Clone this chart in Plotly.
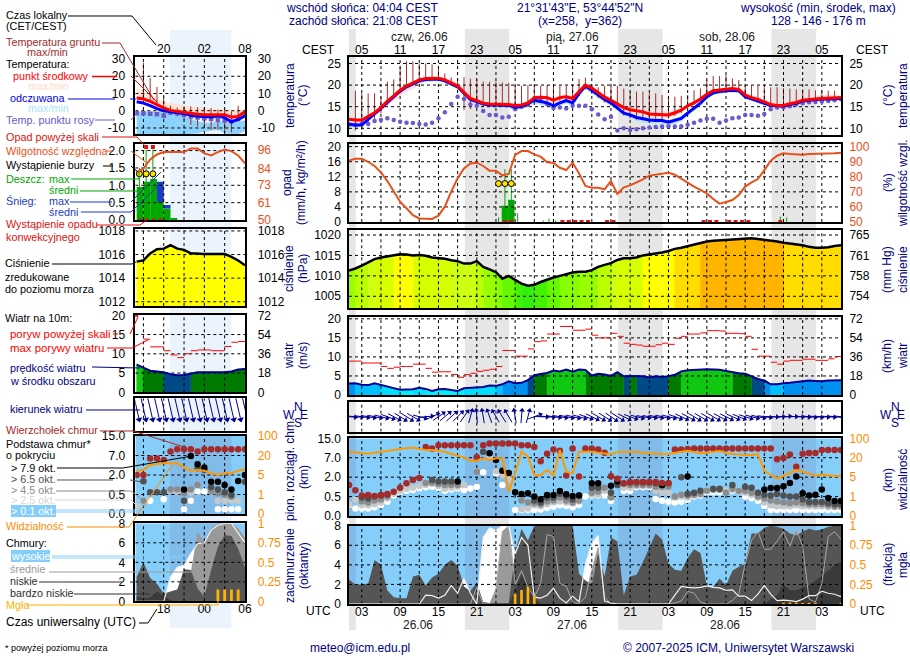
# Meteogram ICM - rebuilt in plotly

import math

import plotly.graph_objects as go

# ===== DATA: main panels, hours since 00 UTC 26.06 =====
hours = list(range(1, 79))
night_main = [(0.9, 2.07), (19.13, 26.07), (43.13, 50.07), (67.13, 74.07)]
top_vals = [3, 9, 15, 21, 27, 33, 39, 45, 51, 57, 63, 69, 75]
cest_labels = ["05", "11", "17", "23", "05", "11", "17", "23", "05", "11", "17", "23", "05"]
utc_labels = ["03", "09", "15", "21", "03", "09", "15", "21", "03", "09", "15", "21", "03"]

temp_mid = [12.1, 11.9, 11.9, 12.7, 13.6, 14.8, 16.3, 17.5, 18.8, 19.8, 20.5, 21.2, 21.5, 21.6, 21.6, 21.2, 20.5, 19.8, 18.3, 16.9, 16.4, 15.8, 15.6, 15.6, 15.6, 15.5, 15.3, 15.4, 15.9, 17.1, 17.2, 17.1, 16.5, 17.1, 17.3, 16.9, 18.5, 20, 19.3, 18.2, 17.2, 16.5, 15.6, 14.8, 14.3, 14, 13.8, 13.3, 13.2, 13.2, 13.1, 13.6, 14.2, 15.2, 15.9, 16.8, 17.9, 18.7, 18.9, 19.1, 19.2, 19, 17.7, 17.1, 16.7, 16.1, 15.5, 15.3, 15.3, 15.7, 16, 16.5, 16.7, 16.8, 16.9, 17, 17, 17.1]
temp_max = [12.5, 12.3, 12.3, 13.0, 13.9, 15.0, 16.4, 17.6, 18.9, 19.9, 20.6, 21.3, 21.6, 21.8, 21.9, 21.7, 21.2, 20.6, 19.3, 17.9, 17.2, 16.3, 15.9, 15.9, 15.9, 15.8, 15.6, 15.7, 16.3, 17.5, 17.7, 17.5, 17.0, 17.6, 17.9, 17.5, 19.0, 20.3, 19.8, 18.7, 17.8, 17.0, 16.1, 15.3, 14.9, 14.6, 14.4, 14.0, 14.0, 14.0, 13.7, 14.2, 14.7, 15.6, 16.2, 17.1, 18.2, 19.0, 19.2, 19.4, 19.5, 19.4, 18.3, 17.7, 17.3, 16.7, 16.0, 15.8, 15.9, 16.4, 16.8, 17.3, 17.5, 17.6, 17.7, 17.7, 17.7, 17.7]
temp_min = [11.5, 11.3, 11.3, 12.2, 13.0, 14.0, 15.2, 16.3, 17.5, 18.4, 19.2, 20.0, 20.7, 21.2, 21.3, 20.9, 20.2, 19.5, 18.0, 16.6, 16.1, 15.5, 15.3, 15.3, 15.3, 15.1, 14.9, 15.0, 15.5, 16.4, 16.3, 16.1, 15.6, 16.2, 16.6, 16.2, 18.0, 19.7, 18.9, 17.7, 16.7, 15.9, 15.0, 14.3, 13.8, 13.4, 13.1, 12.6, 12.4, 12.4, 12.2, 12.9, 13.6, 14.8, 15.5, 16.4, 17.6, 18.4, 18.6, 18.8, 18.9, 18.7, 17.4, 16.8, 16.4, 15.8, 15.3, 15.0, 15.0, 15.4, 15.8, 16.3, 16.5, 16.6, 16.7, 16.8, 16.8, 16.9]
feels = [11, 10.7, 10.8, 12, 13.2, 14.6, 16, 17.3, 18.6, 19.6, 20.3, 21, 21.3, 21.4, 21.4, 21, 20.3, 19.6, 18.1, 16.7, 16.2, 15.6, 15.4, 15.4, 15.4, 15.3, 14.8, 15.1, 15.7, 16.5, 16.2, 15.9, 15.2, 15.9, 16.4, 15.9, 18.1, 19.8, 18.8, 17.7, 16.7, 15.9, 14.8, 13.5, 13.1, 12.5, 12.2, 11.9, 11.8, 11.8, 11.4, 11.8, 12.3, 13.5, 14.6, 15.8, 17.3, 18.2, 18.5, 18.7, 18.8, 18.7, 17.3, 16.8, 16.3, 15.8, 15.3, 15.2, 15.1, 15.5, 15.8, 16.3, 16.5, 16.7, 16.8, 16.8, 16.8, 16.9]
feels_max = [11.4, 11.1, 11.2, 12.4, 13.5, 14.8, 16.2, 17.5, 18.8, 19.8, 20.5, 21.2, 21.5, 21.6, 21.6, 21.2, 20.5, 19.8, 18.4, 17, 16.4, 15.8, 15.6, 15.6, 15.6, 15.5, 15.1, 15.4, 16, 16.9, 16.7, 16.4, 15.8, 16.5, 16.9, 16.4, 18.5, 20, 19.2, 18.1, 17.1, 16.3, 15.3, 14.1, 13.6, 13.1, 12.8, 12.5, 12.4, 12.4, 12, 12.4, 12.9, 14, 15.1, 16.2, 17.6, 18.5, 18.8, 19, 19.1, 18.9, 17.6, 17, 16.6, 16, 15.5, 15.4, 15.3, 15.7, 16, 16.5, 16.7, 16.9, 17, 17, 17, 17.1]
feels_min = [10.4, 10.2, 10.3, 11.5, 12.7, 14.1, 15.5, 16.8, 18.1, 19.1, 19.8, 20.5, 20.8, 20.9, 20.9, 20.5, 19.8, 19.1, 17.6, 16.2, 15.7, 15.1, 14.9, 14.9, 14.9, 14.7, 14.2, 14.4, 15, 15.7, 15.4, 15.1, 14.5, 15.2, 15.7, 15.2, 17.2, 19, 18.1, 17, 16, 15.2, 14.1, 12.8, 12.3, 11.7, 11.3, 11, 10.9, 10.9, 10.5, 11, 11.6, 12.9, 14, 15.2, 16.7, 17.7, 18, 18.2, 18.3, 18.1, 16.8, 16.3, 15.8, 15.3, 14.9, 14.8, 14.7, 15.1, 15.4, 15.9, 16.1, 16.3, 16.4, 16.5, 16.5, 16.6]
dew = [10.8, 10.9, 11, 11, 11.7, 11.9, 12.3, 11.9, 11.5, 11.3, 11.2, 11, 10.9, 11.3, 12.3, 13.7, 15.6, 17.3, 16.8, 15.5, 15.2, 14, 13.1, 13.1, 12.5, 12.7, 14.4, 15, 15.4, 16.7, 16.3, 15.6, 14.7, 14.8, 14.6, 15.2, 15.2, 15.2, 14.4, 13.2, 12.1, 12.7, 9.5, 10, 9.6, 9.8, 10, 10.2, 10.3, 10.4, 10.5, 10.4, 10.5, 10.8, 11.3, 11.8, 12.2, 12.2, 11.3, 11.8, 12.3, 12.5, 13.1, 13.1, 12.9, 13.3, 14.4, 14.8, 14.8, 15.1, 15.5, 15.8, 16, 16.1, 16.2, 16.3, 16.5, 16.7]
soil_max = [12.5, 18.7, 18.1, 18.1, 18.1, 17.3, 20.8, 21.3, 24.2, 25.5, 25.5, 25, 25, 24.8, 23.8, 22.7, 21.8, 21.5, 21.8, 21.5, 21.3, 20.8, 20.8, 20.8, 20.6, 20.5, 20, 19.8, 20, 19.8, 19.8, 20, 19.6, 19.8, 19.8, 19.8, 21.4, 21.7, 20, 19.5, 19.8, 19.6, 19.8, 19.2, 18.5, 18.5, 18.5, 18.1, 18.1, 17.7, 17.5, 17.3, 17.5, 17.7, 18.8, 19.2, 21.2, 22.1, 22.1, 22.3, 21.5, 21.2, 20, 19.9, 19.8, 19.5, 19.5, 19.5, 19.3, 19.2, 19, 19, 19, 18.8, 18.8, 18.7, 18.7, 17.1]
soil_min = [12.1, 9.5, 9.6, 10.5, 12, 13.5, 15.5, 17, 18.5, 19.5, 20.5, 21, 21.3, 21.5, 21.5, 21, 20, 19.5, 14.2, 14.4, 14.8, 15.2, 15.2, 15.2, 15.2, 15, 15, 15, 15.5, 16.5, 16.5, 16.3, 16, 16.4, 16.5, 16, 17.5, 19, 18, 17, 16, 15.5, 14.5, 13, 12.3, 12, 12, 12, 12, 12, 12.2, 12.8, 13.5, 14.8, 15.5, 16.5, 17.5, 18.5, 18.7, 18.9, 19, 18.8, 17.5, 16.8, 16.4, 15.8, 15.3, 15, 15, 15.5, 15.8, 16.3, 16.5, 16.6, 16.7, 16.8, 16.8, 17.1]

humidity = [90.9, 92, 92, 90, 87.2, 83, 77.2, 70.1, 63.5, 59.1, 54.6, 52.4, 52, 52, 54.2, 60.2, 70.1, 79, 85.6, 88.9, 89.4, 87.2, 84.1, 84.1, 81, 81.9, 94.5, 97.1, 97.1, 94.9, 93.4, 89.6, 89.2, 86, 84.5, 89.4, 82.3, 73.9, 72.8, 72.8, 71.7, 77.2, 68.6, 73, 74.3, 76.1, 78.3, 80.8, 81.6, 82.1, 82.7, 81.4, 79, 76.1, 73.5, 71.2, 69, 65.3, 62.2, 63.3, 64.6, 67.9, 73.5, 76.3, 78.5, 84.5, 90.7, 94, 95.6, 95.1, 94.7, 94.7, 95.1, 95.1, 95.1, 95.4, 95.6, 96]
rain_mean_x = [25.4, 26.4]
rain_mean = [4.3, 5.9]
rain_max_x = [24.4, 25.4, 26.4, 27.4, 31.4, 32.3, 33.3, 68.5, 69.5]
rain_max = [1.2, 14, 14, 2.3, 0.4, 0.9, 0.4, 1.4, 1.2]
storm_x = [24.4, 25.4, 26.4]
storm_y = [10.2, 10.2, 10.2]
convective_x = [25.4, 26.4, 34.4, 35.4, 36.4, 37.4, 38.4, 41.4, 42.4, 56.5, 57.5, 58.5, 60.5, 61.5, 62.5, 63.5, 68.5]

pressure = [1011.3, 1011.8, 1012.5, 1013.4, 1014.1, 1014.5, 1014.8, 1015.1, 1015.3, 1015.2, 1015, 1015.1, 1014.9, 1014.5, 1014.4, 1014.2, 1013.8, 1013.6, 1013, 1013, 1013.6, 1012.2, 1011.6, 1010.9, 1009.3, 1010, 1009, 1008.1, 1007.6, 1007.8, 1008.5, 1009.1, 1009.6, 1010, 1010.4, 1010.8, 1011, 1011, 1011.4, 1012.2, 1012.7, 1013.1, 1013.9, 1014.3, 1014.3, 1014.5, 1015, 1015.2, 1015.4, 1015.7, 1016.1, 1016.6, 1016.9, 1017.3, 1017.7, 1018.1, 1018.4, 1018.6, 1018.7, 1018.8, 1018.9, 1019.1, 1019.2, 1019.2, 1019, 1018.8, 1018.7, 1018.4, 1018.1, 1017.9, 1017.8, 1017.5, 1017.1, 1016.9, 1016.9, 1017, 1017.3, 1017.5]

wind = [3, 3.1, 2.7, 2.6, 3.1, 2.6, 2.1, 1.8, 1.4, 1.4, 1.5, 1.9, 1.6, 1.05, 1.5, 1.6, 1.3, 1.05, 1.75, 1.9, 1.9, 2.1, 2.5, 2.4, 2.8, 3.6, 3.1, 3.2, 3.9, 5.2, 5.5, 5.8, 6.4, 6.2, 6.7, 6.1, 6.7, 6.6, 5.1, 5.6, 5.4, 5, 6, 4.9, 5, 5, 4.9, 4.6, 4.9, 4.7, 4.9, 5.3, 6.2, 6.5, 6.6, 6.7, 6.75, 6.7, 6.6, 6.3, 6, 5.7, 5.6, 4.9, 4.2, 3.8, 2.8, 2.8, 3.1, 3.2, 3.4, 3.7, 3.8, 3.7, 3.6, 3.8, 3.9, 3.85]
gust = [8.9, 8.9, 8.4, 8.4, 8.4, 7.5, 7, 7.3, 7.5, 7.5, 8.1, 8.1, 7, 6, 6.1, 6.1, 5.4, 4.65, 5.35, 5.7, 6.2, 6.5, 6.75, 7.5, 11.7, 11.7, 10.2, 10.2, 12.1, 14, 14.2, 16, 16, 18, 18, 17, 17, 17.3, 15.7, 15, 15, 16.2, 15.4, 13.6, 13.3, 13.1, 12.8, 12.8, 13.2, 13.6, 13.3, 14.9, 15.4, 16, 16, 16.3, 16.9, 16.9, 16.8, 16.2, 16.2, 16.1, 15.4, 12, 10.2, 10.2, 8.6, 8.1, 8.9, 9.1, 9.1, 9.4, 9.4, 9.1, 9.1, 9.5, 10.1]
wind_dir = [275, 275, 278, 280, 282, 285, 290, 298, 302, 302, 300, 285, 265, 245, 235, 230, 228, 225, 215, 195, 175, 170, 160, 150, 148, 150, 170, 185, 195, 250, 272, 275, 278, 280, 282, 284, 286, 290, 296, 300, 302, 304, 302, 296, 290, 285, 280, 280, 282, 283, 285, 290, 295, 298, 300, 300, 300, 300, 298, 296, 294, 292, 288, 285, 282, 278, 272, 268, 266, 268, 272, 274, 276, 276, 274, 275, 276, 276]

base_top = [1.60, 1.32, 1.06, 1.08, 1.03, 1.08, 1.13, 1.25, 1.46, 1.68, 1.85, 1.96, 3.55, 3.48, 3.64, 3.64, 3.64, 3.64, 3.64, 3.64, 3.02, 3.64, 3.73, 3.73, 3.73, 3.73, 3.73, 3.64, 3.64, 3.55, 2.82, 3.21, 3.42, 3.36, 2.09, 3.48, 2.03, 3.48, 3.48, 3.42, 3.26, 2.04, 1.92, 1.68, 1.75, 1.75, 1.75, 1.75, 1.75, 1.70, 1.68, 3.42, 3.42, 3.45, 3.48, 3.48, 3.48, 3.48, 3.48, 3.48, 3.48, 3.48, 3.48, 3.48, 3.48, 3.48, 3.48, 2.92, 2.99, 3.16, 2.54, 3.21, 3.24, 3.24, 3.40, 3.40, 3.40, 3.40]
base79_h = [18, 23, 24, 25, 26, 27, 28, 29, 30, 31, 32, 33, 34, 35, 36, 37, 39, 40, 42, 43, 50, 54, 66, 67, 68, 69, 70, 71, 72, 73, 74, 75, 76, 77, 78]
base79 = [1.77, 3.23, 2.88, 2.33, 2.21, 1.22, 1.13, 1.17, 1.01, 0.86, 1.08, 1.08, 1.29, 1.12, 1.03, 1.05, 1.68, 1.68, 1.56, 1.77, 1.60, 2.03, 1.37, 1.44, 1.44, 1.53, 1.70, 2.03, 1.17, 1.06, 1.10, 1.37, 0.93, 0.77, 0.77]
base65_h = [3, 4, 5, 6, 7, 14, 15, 16, 17, 22, 30, 31, 32, 33, 34, 35, 36, 37, 39, 40, 42, 43, 45, 46, 47, 48, 49, 50, 51, 53, 54, 55, 56, 58, 59, 61, 63, 64, 65, 66, 67, 68, 69, 70, 71, 72, 73, 74, 75, 76, 77, 78]
base65 = [0.95, 0.9, 1.0, 1.05, 1.1, 1.85, 1.77, 1.77, 1.77, 3.31, 0.8, 0.7, 0.95, 0.95, 1.15, 1.0, 0.85, 1.05, 1.45, 1.45, 1.2, 1.6, 1.72, 1.72, 1.72, 1.72, 1.68, 1.6, 1.68, 1.99, 1.15, 1.2, 1.3, 1.4, 1.4, 1.6, 1.5, 1.45, 1.2, 1.1, 1.05, 1.15, 1.05, 1.0, 1.0, 0.85, 0.72, 0.72, 0.72, 0.65, 0.6, 0.6]
base45_h = [3, 4, 5, 6, 7, 13, 14, 15, 16, 17, 18, 21, 28, 29, 30, 31, 32, 33, 34, 35, 36, 37, 39, 40, 41, 42, 44, 45, 46, 47, 48, 49, 50, 51, 52, 53, 54, 55, 56, 57, 58, 59, 60, 61, 62, 63, 64, 65, 66, 67, 68, 69, 70, 71, 72, 73, 74, 75, 76, 77, 78]
base45 = [0.75, 0.7, 0.8, 0.85, 1.0, 1.7, 1.72, 1.65, 1.6, 1.6, 1.6, 2.28, 0.8, 0.7, 0.65, 0.6, 0.75, 0.8, 0.95, 0.8, 0.7, 0.8, 1.2, 1.25, 1.45, 0.95, 1.65, 1.6, 1.6, 1.6, 1.6, 1.5, 1.5, 1.5, 1.0, 1.1, 1.05, 1.1, 1.15, 1.3, 1.35, 1.35, 1.2, 1.4, 1.3, 1.3, 1.2, 1.0, 0.9, 0.8, 0.75, 0.7, 0.65, 0.7, 0.65, 0.6, 0.6, 0.6, 0.55, 0.5, 0.5]
base25 = [0.6, 0.84, 0.55, 0.55, 0.6, 0.7, 0.9, 1.15, 1.3, 1.4, 1.45, 1.55, 1.6, 1.65, 1.55, 1.4, 1.45, 1.5, 1.6, None, 2.3, None, 3.0, 2.3, 2.1, 1.9, None, 0.35, 0.38, 0.55, 0.5, 0.6, 0.7, 0.75, 0.7, 0.65, 0.75, None, 1.1, 1.1, 1.3, 1.0, None, 1.45, 1.45, 1.55, 1.55, 1.55, 1.3, 1.2, 1.2, 0.95, 1.0, 0.95, 1.05, 1.1, 1.3, 1.4, 1.4, 1.3, 1.35, 1.25, 1.2, 1.1, 0.95, 0.7, 0.55, 0.5, 0.5, 0.5, 0.55, 0.5, 0.5, 0.5, 0.5, 0.45, 0.45, 0.45]
base01 = [0.57, 0.39, 0.39, 0.39, 0.45, 0.57, 0.74, 1.05, 1.25, 1.30, 1.34, 1.42, 1.48, 1.51, 1.44, 1.30, 1.37, 1.41, 1.34, 1.42, 1.51, 2.25, None, 2.2, 1.60, None, 0.31, 0.31, 0.31, 0.31, 0.34, 0.41, 0.48, 0.55, 0.51, 0.45, 0.57, 1.0, 1.05, 1.05, 1.05, 0.77, None, 1.29, 1.29, 1.48, 1.48, 1.48, 0.88, 0.79, 0.74, 0.69, 0.74, 0.84, 1.0, 1.05, 1.22, 1.22, 1.22, 1.22, 1.30, 1.30, 1.0, 0.91, 0.79, 0.51, 0.31, 0.31, 0.31, 0.31, 0.31, 0.31, 0.31, 0.31, 0.31, 0.31, 0.31, 0.31]
visibility = [3.31, 3.27, 3.25, 3.2, 3.26, 3.3, 3.33, 3.4, 3.45, 3.5, 3.52, 3.45, 3.4, 3.4, 3.36, 3.31, 3.19, 3.09, 3.02, 2.85, 2.85, 2.97, 2.88, 2.97, 2.97, 1.25, 2.2, 3.31, 3.06, 2.11, 2.11, 2.37, 2.08, 3.4, 2.28, 2.2, 3.31, 3.31, 3.31, 3.26, 3.23, 3.18, 3.3, 3.31, 3.3, 3.3, 3.26, 3.23, 3.21, 3.19, 3.19, 3.26, 3.31, 3.36, 3.31, 3.23, 3.26, 3.3, 3.35, 3.23, 3.19, 3.18, 3.14, 3.14, 3.19, 2.33, 2.11, 1.94, 2.06, 2.23, 2.37, 2.28, 2.16, 2.08, 2.13, 2.09, 2.06, 2.06]

cloud_high = [0, 0, 0, 0, 0, 0, 0, 0, 0, 0, 0, 0, 0.9, 0.85, 0.6, 0.9, 1.9, 1.1, 2.6, 1.1, 0, 6.8, 7.8, 7.5, 8, 8, 5.1, 6.8, 6, 0.7, 0.6, 0.9, 1.6, 0.6, 0.1, 0.8, 0.2, 4.1, 6.2, 7, 0.3, 0.1, 0, 0, 0, 0, 0, 0, 0, 0, 0, 0.9, 1.8, 1.7, 1.65, 1.7, 1.85, 1.7, 1.65, 1.4, 1.45, 0.8, 0.8, 0.35, 1, 1.9, 1, 0.35, 0.4, 0.35, 0.25, 0.5, 0.85, 0.85, 1.3, 1.1, 1, 0.75]
cloud_mid = [0, 0, 0, 0, 0, 0, 0, 0, 0, 0, 0, 0, 0, 0, 0, 0, 0, 0, 0, 0, 1.7, 0, 0, 1.5, 7.4, 8, 2, 3.4, 1.7, 0.7, 2.1, 7.1, 6.9, 2.1, 1.8, 0.2, 0, 0.7, 3.5, 5.8, 0.7, 0, 0, 0, 0, 0, 0, 0, 0, 0, 0, 0.1, 0.3, 1.3, 1.1, 0.2, 0, 0, 0, 0, 0.35, 1, 4.1, 6.5, 7.4, 5.6, 5.6, 6.4, 7.4, 5.9, 7.6, 5.9, 0.5, 0.2, 2.1, 6.9, 7.4, 6.6]
cloud_low = [2.5, 2, 2, 2.1, 4.5, 4, 1.4, 0.7, 0.6, 0.6, 2.8, 3, 1.9, 2.7, 3.1, 4, 4.5, 3.9, 1.8, 1.3, 2.2, 0.2, 0.1, 0.1, 0.1, 0.1, 5.2, 7.7, 6.5, 8, 8, 8, 8, 8, 8, 8, 3.1, 2.4, 2, 5.2, 2.8, 6.8, 6.4, 0.9, 2.8, 3, 4.3, 5.7, 7.2, 6.6, 4.1, 3.5, 3.4, 4.7, 5.6, 5.2, 1.9, 1.7, 2.6, 1.9, 3.4, 3.8, 4.1, 7.2, 7.2, 7.8, 8, 7.9, 7.7, 7.2, 7, 7.4, 7.7, 7.5, 7.6, 7.9, 8, 8]
cloud_vlow = [0.1, 0.1, 0, 0, 0, 0, 0, 0, 0, 0, 0, 0, 0, 0, 0, 0, 0, 0, 0, 0, 0, 0, 0, 0, 0, 0, 1.4, 3, 2.1, 0.5, 0, 0, 0, 0, 0, 0, 0, 0, 0, 0, 0, 0, 0, 0, 0, 0, 0, 0, 0, 0, 0, 0, 0, 0, 0, 0, 0, 0, 0, 0, 0, 0, 0, 0, 0, 0, 0.5, 0.9, 2, 1.4, 1.4, 1.7, 1.9, 2.4, 2.9, 3.4, 4, 4.3]
fog_x = [27, 28, 29, 30, 69, 70, 71, 72, 73, 74, 78]
fog = [0.13, 0.18, 0.22, 0.1, 0.02, 0.02, 0.015, 0.015, 0.015, 0.015, 0.015]

# ===== DATA: small legend panels (17 hours, 14 -> 30) =====
left_hours = list(range(14, 31))
left_top_vals = [18, 24, 30]
left_top_labels = ["20", "02", "08"]
left_utc_labels = ["18", "00", "06"]
left_night = (18.9, 28.0)

left_temp = [7.4, 6.8, 5.4, 3.5, 1.6, 0.2, -0.4, -1, -1.7, -2.1, -2.3, -2.3, -2.3, -2.3, -3.7, -3.3, -0.4]
left_temp_max = [13.2, 11, 9, 7, 5, 4.5, 3.5, 3, 2.5, 2, 1.5, 1.5, 1, 1, 0.5, 0, 0.5]
left_feels = [5.2, 4.4, 3, 1.2, -0.1, -0.6, -1, -1.7, -2.6, -3.2, -3.3, -3.6, -3, -4, -6.5, -5, -3]
left_feels_max = [-0.5, -0.5, -0.5, -0.5, -0.5, -1, -2, -3, -5, -6, -7, -7, -6, -6.5, -7, -6.5, -5.5]
left_feels_min = [-13.5, -13.5, -13.5, -13.5, -13.5, -13.5, -13.5, -13.5, -13.5, -13, -12, -11.5, -11, -13, -13.5, -13.5, -12]
left_dew = [-1.4, -1.4, -1.7, -2.1, -2.9, -1, -1.4, -2.3, -3.3, -3.9, -4.3, -4.7, -5.2, -5.6, -6.2, -4.9, -2.3]
left_soil_x = [15, 16, 17, 18, 19, 20, 21, 22, 23, 24, 25, 26, 27, 28, 29]
left_soil_max = [27.8, 19, 13.8, 8.3, 2.9, 1.9, 2.5, 2.5, 2.1, 2.1, 1.55, 0.6, 0.6, -0.4, 2.9]
left_soil_min = [6.4, 4.5, 2.5, 0.6, -2.3, -3.3, -5.2, -8.2, -9.1, -10.1, -11.1, -11.1, -13, -12.6, -5.2]

left_humidity = [81.4, 83.8, 89.8, 93.1, 94.7, 94.7, 94.7, 94.7, 97.1, 97.1, 93.8, 92.5, 94.7, 96.4, 95.3, 92.5, 87.2]
left_rain_x = [14.5, 15.5, 16.5, 17.5, 18.5, 19.5]
left_rain = [0.95, 1.10, 1.18, 0.52, 0.33, 0.05]
left_snow_x = [17.5, 18.5]
left_snow = [0.58, 0.1]
left_snow_base = [0.52, 0.33]
left_rain_max_x = [14.4, 15.4, 16.4]
left_rain_max = [1.5, 2.03, 2.03]
left_over_y = [2.1, 2.1]
left_over_x = [15.4, 16.4]
left_storm_y = [1.33, 1.33, 1.33]
left_convective_x = [14.5, 15.5, 16.5, 17.5]

left_pressure = [1015.4, 1015.5, 1016.1, 1016.45, 1016.5, 1016.8, 1016.5, 1016.4, 1016.1, 1016.05, 1016.05, 1016.05, 1016.05, 1016.05, 1015.8, 1015.5, 1015.1]
left_wind = [7.2, 6.3, 5.6, 5.4, 5.2, 4.7, 4.4, 4.5, 4.8, 5.2, 5.2, 5.2, 5.1, 5.2, 5.4, 5.9, 6.05]
left_gust = [20, 13.8, 11.8, 11.8, 10.8, 9.7, 9, 10, 10.8, 11, 11, 10.8, 10.8, 11.9, 13, 13.2]
left_wind_dir = [346, 346, 346, 346, 346, 346, 346, 346, 346, 346, 346, 346, 346, 346, 346, 346, 346]

left_base_top = [2, 2, 2.85, 2.85, 2.77, 3.2, 3.32, 3.32, 3.32, 3.21, 3.32, 3.32, 3.32, 3.32, 3.32, 3.32, 3.32]
left_79_h = [21, 22, 23, 24, 25, 26, 27, 28, 29, 30]
left_79 = [1.26, 2.97, 2.55, 2.38, 1.66, 1.66, 1.49, 1.26, 1.69, 2.0]
left_65_h = [15, 16, 17, 18, 21, 23, 24, 25, 26, 27, 28, 30]
left_65 = [1.68, 1.11, 1.11, 1.11, 0.68, 2.34, 2.26, 1.37, 1.26, 1.11, 0.97, 1.66]
left_45_h = [15, 19, 20, 21, 22, 23, 25, 26, 27, 28]
left_45 = [0.68, 1.26, 1.26, 1.06, 1.26, 1.49, 1.15, 1.06, 0.97, 0.89]
left_25_h = [14, 19, 20, 22, 26, 27, 28, 29]
left_25 = [0.41, 1.2, 1.15, 1.1, 0.68, 0.68, 0.68, 0.68]
left_01_h = [15, 16, 18, 21, 22, 23, 24, 25, 26, 27, 28, 29]
left_01 = [0.68, 0.68, 0.75, 0.24, 0.68, 1.15, 1.15, 1.15, 0.24, 0.24, 0.24, 0.24]
left_visibility = [2.22, 2.26, 2.51, 2.56, 2.6, 2.6, 2.6, 2.39, 2.22, 2.26, 2.22, 2.09, 2.02, 2.09, 2.09, 2.22, 2.29]

left_high = [0, 0, 0, 0, 0, 2.5, 3.5, 3.7, 4.9, 5.9, 6, 7.3, 7.8, 8, 8, 7, 6]
left_mid = [0, 0, 0, 0, 0, 0, 0.5, 2, 3, 7.1, 6.1, 7.5, 8, 8, 8, 7.5, 6.5]
left_low = [2.5, 4, 2.4, 1.8, 0.8, 1, 1.2, 3.3, 3.2, 1.3, 0.5, 3.2, 5.6, 6.8, 6.7, 5.4, 3.5]
left_vlow = [0.5, 0.3, 0.4, 1, 0.6, 0.1, 0, 0, 0, 0, 0, 0, 0, 0, 0, 0, 0]
left_fog_x = [26, 27, 28, 29]
left_fog = [0.15, 0.15, 0.15, 0.15]

# ===== COLOURS =====
NAVY = "#000080"
SKY = "#86CEFA"
SKY_NIGHT = "#80BBEA"
ORANGE = "#FF8C00"
HUM = "#E8501A"
RAIN = "#00A800"
SOIL = "#A52A2A"
DEW = "#6A5ACD"

W, H = 910, 660
FONT = "Liberation Sans"


def color_of_pressure(p):
    steps = [(1008, "#33EE11"), (1009, "#44F200"), (1010, "#66F800"), (1011, "#88FF00"), (1012, "#99FF00"),
             (1013, "#BBFF00"), (1014, "#CCFF11"), (1015.1, "#D8FF00"), (1016.7, "#FFFF00"), (1018.2, "#FFDD00")]
    for limit, col in steps:
        if p < limit:
            return col
    return "#FFB400"


def color_of_wind(v):
    steps = [(1.6, "#00F0FF"), (2.5, "#00DDFF"), (3.0, "#00C0FF"), (4.0, "#0090F0"), (5.0, "#004A88"), (6.0, "#007A00")]
    for limit, col in steps:
        if v < limit:
            return col
    return "#10C810"


fig = go.Figure()
layout_axes = {}
shapes = []
annotations = []


def px_x(x):
    return x / W


def px_y(y):
    return 1 - y / H


def panel(n, x0, x1, y0, y1, xr, yr, lticks, lnames, rticks=None, rnames=None, rrange=None, rcolor="black", top=None, bottom=None, lgap=4, rgap=5, stand=-4):
    clear = "rgba(0,0,0,0)"
    xa = dict(domain=[px_x(x0), px_x(x1)], range=xr, anchor=f"y{n}", showgrid=False, zeroline=False, automargin=False,
              showline=True, mirror=True, linecolor="black", linewidth=1.5, ticks="", showticklabels=False,
              tickfont=dict(family=FONT, size=12, color="black"), layer="above traces")
    if top:
        xa.update(side="top", tickmode="array", tickvals=top[0], ticktext=top[1], showticklabels=True, ticklabelstandoff=stand)
    if bottom:
        xa.update(side="bottom", tickmode="array", tickvals=bottom[0], ticktext=bottom[1], showticklabels=True, ticklabelstandoff=stand)
    layout_axes[f"xaxis{n}"] = xa
    layout_axes[f"yaxis{n}"] = dict(domain=[px_y(y1), px_y(y0)], range=yr, anchor=f"x{n}", showgrid=False, zeroline=False, automargin=False,
                                    showline=True, mirror=True, linecolor="black", linewidth=1.5, ticks="outside", ticklen=lgap, tickcolor=clear,
                                    tickmode="array", tickvals=lticks, ticktext=lnames, showticklabels=bool(lticks),
                                    tickfont=dict(family=FONT, size=12, color="black"), layer="above traces")
    if rticks:
        m = n + 20
        layout_axes[f"yaxis{m}"] = dict(overlaying=f"y{n}", side="right", anchor=f"x{n}", range=rrange if rrange else yr, automargin=False,
                                        showgrid=False, zeroline=False, showline=False, ticks="outside", ticklen=rgap, tickcolor=clear, tickmode="array",
                                        tickvals=rticks, ticktext=rnames, tickfont=dict(family=FONT, size=12, color=rcolor))
        fig.add_trace(go.Scatter(x=[None], y=[None], xaxis=f"x{n}", yaxis=f"y{m}", showlegend=False, hoverinfo="skip"))


def grid(n, xs, ys, xr, yr):
    gx, gy = [], []
    for v in xs:
        gx += [v, v, None]
        gy += [yr[0], yr[1], None]
    for v in ys:
        gx += [xr[0], xr[1], None]
        gy += [v, v, None]
    fig.add_trace(go.Scatter(x=gx, y=gy, mode="lines", xaxis=f"x{n}", yaxis=f"y{n}", showlegend=False, hoverinfo="skip",
                             line=dict(color="black", width=1, dash="3px,3px")))


def line(n, x, y, color, width=1, mode="lines", size=5, symbol="circle", clip=True, mline=None):
    fig.add_trace(go.Scatter(x=x, y=y, mode=mode, xaxis=f"x{n}", yaxis=f"y{n}", showlegend=False, hoverinfo="skip",
                             line=dict(color=color, width=width), cliponaxis=clip,
                             marker=dict(color=color, size=size, symbol=symbol, line=mline or dict(width=0))))


def band(n, x, hi, lo, color):
    fig.add_trace(go.Scatter(x=x + x[::-1], y=hi + lo[::-1], mode="lines", fill="toself", fillcolor=color, line=dict(width=0),
                             xaxis=f"x{n}", yaxis=f"y{n}", showlegend=False, hoverinfo="skip"))


def segs(n, xs, lo, hi, color, width=1):
    sx, sy = [], []
    for a, b, c in zip(xs, lo, hi):
        sx += [a, a, None]
        sy += [b, c, None]
    line(n, sx, sy, color, width)


def steps(n, xs, vals, color, width=1):
    sx, sy = [], []
    for a, v in zip(xs, vals):
        sx += [a, a + 1, None]
        sy += [v, v, None]
    line(n, sx, sy, color, width)


def colored_area(n, xs, vals, base, color_of):
    # one polygon per run of equal colour, so the column colours follow the value
    polys = {}
    i = 0
    while i < len(xs) - 1:
        col = color_of((vals[i] + vals[i + 1]) / 2)
        j = i + 1
        while j < len(xs) - 1 and color_of((vals[j] + vals[j + 1]) / 2) == col:
            j += 1
        px = polys.setdefault(col, ([], []))
        px[0].extend(xs[i:j + 1] + [xs[j], xs[i], xs[i], None])
        px[1].extend(vals[i:j + 1] + [base, base, vals[i], None])
        i = j
    for col, (px, py) in polys.items():
        fig.add_trace(go.Scatter(x=px, y=py, mode="lines", fill="toself", fillcolor=col, line=dict(width=0.5, color=col),
                                 xaxis=f"x{n}", yaxis=f"y{n}", showlegend=False, hoverinfo="skip"))


def arrows(n, xs, dirs, length, x_scale, y0=0, head=5, color="#000090"):
    # tail and head of each wind arrow, y axis of this panel is in pixels
    sx, sy, hx, hy, ang = [], [], [], [], []
    for h, d in zip(xs, dirs):
        to = math.radians(d + 180)
        dx, dy = math.sin(to) * length / 2, math.cos(to) * length / 2
        sx += [h - dx / x_scale, h + dx / x_scale, None]
        sy += [y0 - dy, y0 + dy, None]
        hx.append(h + dx / x_scale)
        hy.append(y0 + dy)
        ang.append(d + 180)
    line(n, sx, sy, color, 1, clip=False)
    fig.add_trace(go.Scatter(x=hx, y=hy, mode="markers", xaxis=f"x{n}", yaxis=f"y{n}", showlegend=False, hoverinfo="skip", cliponaxis=False,
                             marker=dict(symbol="triangle-up", size=head, color=color, angle=ang, line=dict(width=0))))


def txt(x, y, s, color="black", size=12, anchor="left", angle=0, bg=None):
    annotations.append(dict(x=px_x(x), y=px_y(y), xref="paper", yref="paper", text=s, showarrow=False, xanchor=anchor, yanchor="middle",
                            font=dict(family=FONT, size=size, color=color), textangle=angle, borderpad=0, borderwidth=0,
                            bgcolor=bg if bg else "rgba(0,0,0,0)"))


def leader(points, color="black", width=1):
    d = "M " + " L ".join(f"{px_x(a):.5f} {px_y(b):.5f}" for a, b in points)
    shapes.append(dict(type="path", path=d, xref="paper", yref="paper", line=dict(color=color, width=width), layer="above"))


# ===== SHADED NIGHT BANDS =====
XR = [1, 78]
LXR = [13.8, 30.05]
for a, b in night_main:
    shapes.append(dict(type="rect", xref="x2", yref="paper", x0=max(a, 1), x1=b, y0=px_y(630), y1=px_y(29), fillcolor="#E6E6E6", line=dict(width=0), layer="below"))
shapes.append(dict(type="rect", xref="x12", yref="paper", x0=left_night[0], x1=left_night[1], y0=px_y(628), y1=px_y(30), fillcolor="#EBF3FD", line=dict(width=0), layer="below"))

# ===== MAIN PANELS =====
TEMP_R = [8.45, 26.5]
PREC_R = [0, 20.7]
PRES_R = [1002.06, 1021.15]
WIND_R = [0, 20.4]
DIR_R = [-15, 15]
BASE_R = [0, 4]
CLOUD_R = [0, 8]
grid_x = list(range(3, 78, 3))

panel(2, 349, 841, 57, 135, XR, TEMP_R, [10, 15, 20, 25], ["10", "15", "20", "25"], [10, 15, 20, 25], ["10", "15", "20", "25"], top=(top_vals, cest_labels))
panel(3, 349, 841, 144, 222, XR, PREC_R, [0, 4, 8, 12, 16, 20], ["0", "4", "8", "12", "16", "20"], [50, 60, 70, 80, 90, 100], ["50", "60", "70", "80", "90", "100"], [50, 101.8], HUM)
panel(4, 349, 841, 230.3, 308.3, XR, PRES_R, [1005, 1010, 1015, 1020], ["1005", "1010", "1015", "1020"], [1005, 1010, 1015, 1020], ["754", "758", "761", "765"])
panel(5, 349, 841, 317.3, 395, XR, WIND_R, [0, 5, 10, 15, 20], ["0", "5", "10", "15", "20"], [0, 5, 10, 15, 20], ["0", "18", "36", "54", "72"])
panel(6, 349, 841, 401.7, 431.7, XR, DIR_R, [], [])
panel(7, 349, 841, 438.3, 516, XR, BASE_R, [0, 1, 2, 3, 4], ["0.0", "0.5", "2.0", "7.0", "15.0"], [0, 1, 2, 3, 4], ["0", "1", "5", "20", "100"], None, ORANGE)
panel(8, 349, 841, 525.7, 604, XR, CLOUD_R, [0, 2, 4, 6, 8], ["0", "2", "4", "6", "8"], [0, 0.25, 0.5, 0.75, 1], ["0", "0.25", "0.5", "0.75", "1"], [0, 1], ORANGE, bottom=(top_vals, utc_labels))

# sky behind the two cloud panels
for n in (7, 8):
    yr = BASE_R if n == 7 else CLOUD_R
    shapes.append(dict(type="rect", xref=f"x{n}", yref=f"y{n}", x0=XR[0], x1=XR[1], y0=yr[0], y1=yr[1], fillcolor=SKY, line=dict(width=0), layer="below"))
    for a, b in night_main:
        shapes.append(dict(type="rect", xref=f"x{n}", yref=f"y{n}", x0=max(a, 1), x1=b, y0=yr[0], y1=yr[1], fillcolor=SKY_NIGHT, line=dict(width=0), layer="below"))

# temperature
band(2, hours, temp_max, temp_min, "#FFDCDC")
band(2, hours, feels_max, feels_min, "#BCE6FF")
segs(2, hours, soil_min, soil_max, SOIL, 1)
grid(2, grid_x, [10, 15, 20, 25], XR, TEMP_R)
line(2, hours, dew, DEW, mode="markers", size=4.5)
line(2, hours, feels, "#0000FF", 3)
line(2, hours, temp_mid, "#FF0000", 3)

# precipitation + humidity
fig.add_trace(go.Bar(x=rain_mean_x, y=rain_mean, width=1, marker=dict(color=RAIN, line=dict(width=0)), xaxis="x3", yaxis="y3", showlegend=False, hoverinfo="skip"))
segs(3, rain_max_x, [0] * len(rain_max), rain_max, RAIN, 1)
grid(3, grid_x, [4, 8, 12, 16, 20], XR, PREC_R)
line(3, convective_x, [0] * len(convective_x), "#E01010", mode="markers", size=4, symbol="square", clip=False)
line(3, storm_x, storm_y, "#FFE000", mode="markers", size=6, mline=dict(color="black", width=1))
fig.add_trace(go.Scatter(x=hours, y=humidity, mode="lines", line=dict(color=HUM, width=2), xaxis="x3", yaxis="y23", showlegend=False, hoverinfo="skip"))

# pressure
colored_area(4, hours, pressure, PRES_R[0], color_of_pressure)
grid(4, grid_x, [1005, 1010, 1015, 1020], XR, PRES_R)
line(4, hours, pressure, "black", 2.5)

# wind
colored_area(5, hours, wind, 0, color_of_wind)
grid(5, grid_x, [5, 10, 15, 20], XR, WIND_R)
steps(5, hours[:-1], gust, "#FF0000", 1)
line(5, hours, wind, "#000090", 2)

# wind direction
grid(6, grid_x, [], XR, DIR_R)
arrows(6, hours, wind_dir, 13, 6.4)

# cloud base
grid(7, grid_x, [1, 2, 3], XR, BASE_R)
line(7, hours, base01, "white", mode="markers", size=6.5)
line(7, hours, base25, "#C8C8C8", mode="markers", size=6.5)
line(7, base45_h, base45, "#8C8C8C", mode="markers", size=6.5)
line(7, base65_h, base65, "#505050", mode="markers", size=6.5)
line(7, base79_h, base79, "black", mode="markers", size=6.5)
line(7, hours, base_top, "#A52A2A", mode="markers", size=6.5)
line(7, hours, visibility, "#FF9900", 2)

# cloud cover
band(8, hours, cloud_high, [0] * 78, "white")
band(8, hours, cloud_mid, [0] * 78, "#9A9A9A")
band(8, hours, cloud_low, [0] * 78, "#555555")
band(8, hours, cloud_vlow, [0] * 78, "#3A3A3A")
grid(8, grid_x, [2, 4, 6], XR, CLOUD_R)
line(8, hours, cloud_mid, "#A8A8A8", 1)
line(8, hours, cloud_high, "#F0F0F0", 1.2)
fig.add_trace(go.Bar(x=fog_x, y=fog, width=0.42, marker=dict(color="#FFB000", line=dict(width=0)), xaxis="x8", yaxis="y28", showlegend=False, hoverinfo="skip"))

# ===== LEGEND PANELS =====
L_TEMP_R = [-13.5, 31]
L_PREC_R = [0, 2.19]
L_PRES_R = [1011.64, 1018.14]
L_WIND_R = [0, 20]
lgrid = [15, 18, 21, 24, 27]
L_GAP = dict(lgap=6, rgap=9, stand=-2)

panel(12, 135.3, 245.3, 57.3, 134, LXR, L_TEMP_R, [-10, 0, 10, 20, 30], ["-10", "0", "10", "20", "30"], [-10, 0, 10, 20, 30], ["-10", "0", "10", "20", "30"], top=(left_top_vals, left_top_labels), **L_GAP)
panel(13, 135.3, 245.3, 144, 220, LXR, L_PREC_R, [0, 0.5, 1, 1.5, 2], ["0.0", "0.5", "1.0", "1.5", "2.0"], [50, 61, 73, 84, 96], ["50", "61", "73", "84", "96"], [50, 100], HUM, **L_GAP)
panel(14, 135.3, 245.3, 229.3, 306, LXR, L_PRES_R, [1012, 1014, 1016, 1018], ["1012", "1014", "1016", "1018"], [1012, 1014, 1016, 1018], ["1012", "1014", "1016", "1018"], **L_GAP)
panel(15, 135.3, 245.3, 315.3, 392.3, LXR, L_WIND_R, [0, 5, 10, 15, 20], ["0", "5", "10", "15", "20"], [0, 5, 10, 15, 20], ["0", "18", "36", "54", "72"], **L_GAP)
panel(16, 135.3, 245.3, 398.3, 430.7, LXR, DIR_R, [], [], **L_GAP)
panel(17, 135.3, 245.3, 436, 514, LXR, BASE_R, [0, 1, 2, 3, 4], ["0.0", "0.5", "2.0", "7.0", "15.0"], [0, 1, 2, 3, 4], ["0", "1", "5", "20", "100"], None, ORANGE, **L_GAP)
panel(18, 135.3, 245.3, 523.3, 601.3, LXR, CLOUD_R, [0, 2, 4, 6, 8], ["0", "2", "4", "6", "8"], [0, 0.25, 0.5, 0.75, 1], ["0", "0.25", "0.5", "0.75", "1"], [0, 1], ORANGE, bottom=(left_top_vals, left_utc_labels), lgap=6, rgap=9, stand=-4)

for n in (17, 18):
    yr = BASE_R if n == 17 else CLOUD_R
    shapes.append(dict(type="rect", xref=f"x{n}", yref=f"y{n}", x0=LXR[0], x1=LXR[1], y0=yr[0], y1=yr[1], fillcolor=SKY, line=dict(width=0), layer="below"))
    shapes.append(dict(type="rect", xref=f"x{n}", yref=f"y{n}", x0=left_night[0], x1=left_night[1], y0=yr[0], y1=yr[1], fillcolor=SKY_NIGHT, line=dict(width=0), layer="below"))

band(12, left_hours, left_temp_max, left_temp, "#FFE2D2")
band(12, left_hours, left_feels_max, left_feels_min, "#8CD2FA")
segs(12, left_soil_x, left_soil_min, left_soil_max, SOIL, 1)
grid(12, lgrid, [-10, 0, 10, 20], LXR, L_TEMP_R)
line(12, left_hours, left_dew, DEW, mode="markers", size=4.5, symbol="square")
line(12, left_hours, left_feels, "#0000FF", 3)
line(12, left_hours, left_temp, "#FF0000", 3)

fig.add_trace(go.Bar(x=left_rain_x, y=left_rain, width=1, marker=dict(color=RAIN, line=dict(width=0)), xaxis="x13", yaxis="y13", showlegend=False, hoverinfo="skip"))
fig.add_trace(go.Bar(x=left_snow_x, y=left_snow, base=left_snow_base, width=1, marker=dict(color="#1C3CC8", line=dict(width=0)), xaxis="x13", yaxis="y13", showlegend=False, hoverinfo="skip"))
segs(13, left_rain_max_x, [0, 0, 0], left_rain_max, RAIN, 1)
grid(13, lgrid, [0.5, 1, 1.5, 2], LXR, L_PREC_R)
line(13, left_convective_x, [0] * 4, "#E01010", mode="markers", size=3, symbol="square", clip=False)
line(13, left_over_x, left_over_y, "#E01010", mode="markers", size=4, symbol="square")
line(13, left_rain_max_x, left_storm_y, "#FFE000", mode="markers", size=6, mline=dict(color="black", width=1))
fig.add_trace(go.Scatter(x=left_hours, y=left_humidity, mode="lines", line=dict(color=HUM, width=2), xaxis="x13", yaxis="y33", showlegend=False, hoverinfo="skip"))

colored_area(14, left_hours, left_pressure, L_PRES_R[0], color_of_pressure)
grid(14, lgrid, [1012, 1014, 1016, 1018], LXR, L_PRES_R)
line(14, left_hours, left_pressure, "black", 2.5)

colored_area(15, left_hours, left_wind, 0, color_of_wind)
grid(15, lgrid, [5, 10, 15], LXR, L_WIND_R)
steps(15, left_hours[1:-1], left_gust[1:], "#FF0000", 1)
line(15, left_hours[:1], left_gust[:1], "#FF0000", mode="markers", size=3, symbol="square", clip=False)
line(15, left_hours, left_wind, "#000090", 2)

grid(16, lgrid, [], LXR, DIR_R)
arrows(16, left_hours, left_wind_dir, 21, 6.8, y0=5.5, head=6)

grid(17, lgrid, [1, 2, 3], LXR, BASE_R)
line(17, left_01_h, left_01, "white", mode="markers", size=6.5)
line(17, left_25_h, left_25, "#C8C8C8", mode="markers", size=6.5)
line(17, left_45_h, left_45, "#8C8C8C", mode="markers", size=6.5)
line(17, left_65_h, left_65, "#505050", mode="markers", size=6.5)
line(17, left_79_h, left_79, "black", mode="markers", size=6.5)
line(17, left_hours, left_base_top, "#A52A2A", mode="markers", size=6.5)
line(17, left_hours, left_visibility, "#FF9900", 2)

band(18, left_hours, left_high, [0] * 17, "white")
band(18, left_hours, left_mid, [0] * 17, "#9A9A9A")
band(18, left_hours, left_low, [0] * 17, "#555555")
band(18, left_hours, left_vlow, [0] * 17, "#3A3A3A")
grid(18, lgrid, [2, 4, 6], LXR, CLOUD_R)
line(18, left_hours, left_high, "#F0F0F0", 1.2)
fig.add_trace(go.Bar(x=left_fog_x, y=left_fog, width=0.42, marker=dict(color="#FFB000", line=dict(width=0)), xaxis="x18", yaxis="y38", showlegend=False, hoverinfo="skip"))

# ===== HEADER / FOOTER TEXT =====
txt(286, 8, "wschód słońca: 04:04 CEST", NAVY)
txt(363, 21, "zachód słońca: 21:08 CEST", NAVY, anchor="center")
txt(580, 8, "21°31'43\"E, 53°44'52\"N", NAVY, anchor="center")
txt(580, 21, "(x=258,  y=362)", NAVY, anchor="center")
txt(818, 8, "wysokość (min, środek, max)", NAVY, anchor="center")
txt(818, 21, "128 - 146 - 176 m", NAVY, anchor="center")
txt(419, 37, "czw, 26.06", "#202020", anchor="center")
txt(572, 37, "pią, 27.06", "#202020", anchor="center")
txt(727, 37, "sob, 28.06", "#202020", anchor="center")
txt(318, 50, "CEST", "black", anchor="center")
txt(872, 50, "CEST", "black", anchor="center")
txt(318, 611, "UTC", "black", anchor="center")
txt(872, 611, "UTC", "black", anchor="center")
txt(418, 625, "26.06", "#202020", anchor="center")
txt(572, 625, "27.06", "#202020", anchor="center")
txt(725, 625, "28.06", "#202020", anchor="center")
txt(310, 648, "meteo@icm.edu.pl", NAVY)
txt(623, 648, "© 2007-2025 ICM, Uniwersytet Warszawski", NAVY)
txt(5, 648, "* powyżej poziomu morza", "black", size=9)

# ===== ROTATED AXIS TITLES =====
for x, y, s in [(290, 96, "temperatura"), (303, 96, "(°C)"), (287, 183, "opad"), (301, 183, "(mm/h, kg/m²/h)"),
                (289, 269, "ciśnienie"), (303, 269, "(hPa)"), (289, 356, "wiatr"), (303, 356, "(m/s)"),
                (290, 470, "pion. rozciągł. chm."), (304, 477, "(km)"), (290, 566, "zachmurzenie"), (304, 566, "(oktanty)"),
                (888, 96, "(°C)"), (903, 96, "temperatura"), (888, 183, "(%)"), (903, 183, "wilgotność wzgl."),
                (887, 270, "(mm Hg)"), (903, 270, "ciśnienie"), (887, 356, "(km/h)"), (903, 356, "wiatr"),
                (888, 480, "(km)"), (903, 480, "widzialność"), (888, 565, "(frakcja)"), (903, 565, "mgła")]:
    txt(x, y, s, NAVY, anchor="center", angle=-90)

for x0 in (0, 597):
    txt(289 + x0, 415, "W", NAVY, size=12, anchor="center")
    txt(298 + x0, 407, "N", NAVY, size=12, anchor="center")
    txt(304 + x0, 415, "E", NAVY, size=12, anchor="center")
    txt(298 + x0, 423, "S", NAVY, size=12, anchor="center")

# ===== LEGEND TEXT AND LEADERS =====
legend_rows = [
    (6, 15, "Czas lokalny", "black"), (6, 26, "(CET/CEST)", "black"),
    (6, 42, "Temperatura gruntu", "#A52A2A"), (27, 52, "max/min", "#A52A2A"),
    (6, 64, "Temperatura:", "black"), (13, 76, "punkt środkowy", "#FF0000"), (28, 86, "max/min", "#FFDAC8"),
    (10, 98, "odczuwana", "#0000EE"), (28, 108, "max/min", "#AADFFF"), (6, 120, "Temp. punktu rosy", DEW),
    (6, 137, "Opad powyżej skali", "#E01010"), (6, 151, "Wilgotność względna", HUM), (6, 165, "Wystąpienie burzy", "black"),
    (6, 179, "Deszcz:", RAIN), (49, 179, "max", RAIN), (49, 190, "średni", RAIN), (6, 201, "Śnieg:", "#1C3CC8"),
    (49, 201, "max", "#1C3CC8"), (49, 212, "średni", "#1C3CC8"), (6, 224, "Wystąpienie opadu", "#E01010"), (6, 237, "konwekcyjnego", "#E01010"),
    (5, 263, "Ciśnienie", "black"), (5, 277, "zredukowane", "black"), (5, 289, "do poziomu morza", "black"),
    (5, 318, "Wiatr na 10m:", "black"), (10, 368, "prędkość wiatru", NAVY), (10, 381, "w środku obszaru", NAVY), (10, 409, "kierunek wiatru", NAVY),
    (6, 430, "Wierzchołek chmur", "#A52A2A"), (6, 444, "Podstawa chmur*", "black"), (6, 455, "o pokryciu", "black"),
    (11, 468, "> 7.9 okt.", "black"), (11, 479, "> 6.5 okt.", "#505050"), (11, 490, "> 4.5 okt.", "#8C8C8C"), (11, 500, "> 2.5 okt.", "#D8D8D8"),
    (6, 526, "Widzialność", ORANGE), (6, 543, "Chmury:", "black"), (10, 569, "średnie", "#9A9A9A"), (10, 581, "niskie", "#303030"),
    (10, 593, "bardzo niskie", "#303030"), (6, 605, "Mgła", "#FFB000"),
]
for x, y, s, c in legend_rows:
    txt(x, y, s, c, size=10.8)
txt(10, 334, "poryw powyżej skali", "#FF0000", size=11.4)
txt(10, 348, "max porywy wiatru", "#FF0000", size=11.4)
txt(6, 622, "Czas uniwersalny (UTC)", "black")
txt(11, 511, "> 0.1 okt.", "white", size=10.8, bg=SKY)
txt(11, 556, "wysokie", "white", size=10.8, bg=SKY)

leader([(68, 16), (132, 16), (156, 45)])
leader([(102, 43), (120, 43), (154, 100)], "#A52A2A")
leader([(92, 76.5), (117, 76.5)], "#FF0000", 1.5)
leader([(131, 76), (157, 102)], "#FF0000")
leader([(68, 99), (115, 99)], "#0000EE")
leader([(130, 99), (136, 99)], "#0000EE")
leader([(95, 120), (115, 120)], DEW)
leader([(131, 120), (137, 113)], DEW)
leader([(102, 137), (137, 137), (146, 147)], "#E01010")
leader([(106, 151), (112, 151)], HUM)
leader([(131, 151), (147, 163)], HUM)
leader([(103, 166), (113, 166)])
leader([(131, 166), (138, 172)])
leader([(71, 179), (139, 179), (139, 172)], RAIN)
leader([(80, 191), (143, 191)], RAIN)
leader([(70, 202), (112, 202)], "#1C3CC8")
leader([(131, 202), (161, 172)], "#1C3CC8")
leader([(81, 212), (131, 212), (157, 187)], "#1C3CC8")
leader([(97, 225), (140, 225), (147, 220)], "#E01010")
leader([(52, 264), (132, 264), (136, 262)])
leader([(113, 334), (118, 334)], "#FF0000")
leader([(130, 334), (138, 317)], "#FF0000")
leader([(107, 348), (132, 348), (148, 340)], "#FF0000")
leader([(92, 367), (140, 368)], NAVY)
leader([(86, 410), (140, 410)], NAVY)
leader([(100, 431), (133, 431), (184, 447)], "#A52A2A")
leader([(57, 468), (123, 468), (192, 456)])
leader([(57, 480), (113, 480)], "#505050")
leader([(130, 480), (143, 482)], "#505050")
leader([(56, 491), (131, 491), (143, 500)], "#8C8C8C")
leader([(55, 500), (131, 500), (137, 506)], "#D8D8D8")
leader([(55, 510), (135, 510)], SKY)
leader([(55, 512), (135, 512)], SKY)
leader([(67, 527), (129, 527), (172, 465)], ORANGE)
leader([(52, 556), (187, 556)], SKY)
leader([(52, 558), (187, 558)], SKY)
leader([(49, 572), (192, 572)], "#9A9A9A")
leader([(39, 582), (122, 582)], "#303030")
leader([(130, 582), (135, 582)], "#303030")
leader([(74, 594), (150, 594)], "#303030")
leader([(27, 605), (218, 605), (218, 600)], "#FFB000")
leader([(139, 623), (148, 623), (157, 609)])

fig.update_layout(width=W, height=H, margin=dict(l=0, r=0, t=0, b=0), paper_bgcolor="white", plot_bgcolor="rgba(0,0,0,0)",
                  showlegend=False, barmode="overlay", shapes=shapes, annotations=annotations, **layout_axes)

fig.write_html("out.html", post_script="document.body.style.margin='0';", config={"displayModeBar": False})
